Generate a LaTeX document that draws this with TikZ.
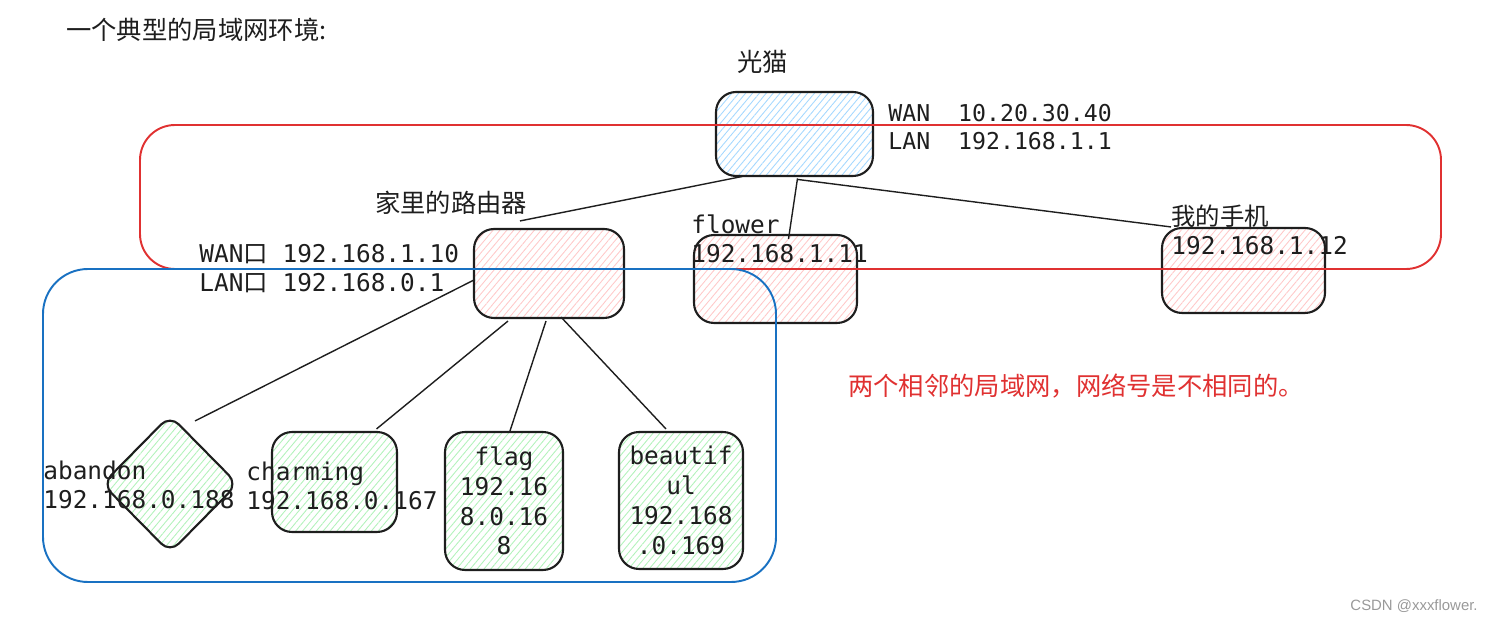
\documentclass[tikz,border=0pt]{standalone}
\usepackage{fontspec}
\newfontfamily\cjk{Noto Sans CJK SC}
\newfontfamily\monofont{DejaVu Sans Mono}
\newfontfamily\markfont{Liberation Sans}
\usetikzlibrary{shapes.geometric,patterns.meta,calc}
\definecolor{ink}{HTML}{1E1E1E}
\definecolor{netred}{HTML}{E03131}
\definecolor{netblue}{HTML}{1971C2}
\definecolor{hatchblue}{HTML}{A5D8FF}
\definecolor{hatchred}{HTML}{FFC9C9}
\definecolor{hatchgreen}{HTML}{B2F2BB}
\tikzset{
    device/.style={draw=ink, line width=1.2pt, rounded corners=0.4cm, pattern={Lines[angle=50,distance=3pt,line width=0.5pt]}},
    lanbox/.style={device, pattern color=hatchred},
    hostbox/.style={device, pattern color=hatchgreen},
    cjklabel/.style={font=\cjk\fontsize{14.4pt}{17pt}\selectfont, text=ink, inner sep=0pt, anchor=west},
    monolabel/.style={font=\monofont\fontsize{13.9pt}{16.5pt}\selectfont, text=ink, inner sep=0pt, align=left, anchor=west},
    link/.style={draw=ink, line width=0.8pt},
    zone/.style={line width=1.1pt, rounded corners=0.7cm},
}

\begin{document}
\begin{tikzpicture}[x=0.02cm, y=0.02cm]
    \useasboundingbox (0,0) rectangle (1492,-621);
    \node[cjklabel] (title) at (66,-30) {一个典型的局域网环境:};

    \node[device, pattern color=hatchblue, minimum width=3.14cm, minimum height=1.68cm] (modem) at (794.5,-134) {};
    \node[cjklabel] (modemname) at (737,-62) {光猫};
    \node[monolabel, font=\monofont\fontsize{13.2pt}{16pt}\selectfont] (modemip) at (888,-127) {WAN\ \ 10.20.30.40\\LAN\ \ 192.168.1.1};

    \node[lanbox, minimum width=3.0cm, minimum height=1.78cm] (router) at (549,-273.5) {};
    \node[cjklabel] (routername) at (375,-203) {家里的路由器};
    \node[monolabel] (routerip) at (199,-269) {WAN{\cjk 口} 192.168.1.10\\LAN{\cjk 口} 192.168.0.1};

    \node[lanbox, minimum width=3.26cm, minimum height=1.76cm] (flower) at (775.5,-279) {};
    \node[monolabel] (flowerip) at (691,-238.5) {flower\\192.168.1.11};

    \node[lanbox, minimum width=3.26cm, minimum height=1.70cm] (phone) at (1243.5,-270.5) {};
    \node[monolabel] (phoneip) at (1171,-230) {{\cjk 我的手机}\\192.168.1.12};

    \node[hostbox, diamond, rounded corners=0.25cm, minimum width=2.72cm, minimum height=2.76cm] (abandon) at (170,-484) {};
    \node[monolabel] (abandonip) at (43,-484.5) {abandon\\192.168.0.188};

    \node[hostbox, minimum width=2.5cm, minimum height=2.0cm] (charming) at (334.5,-482) {};
    \node[monolabel] (charmingip) at (246,-485.5) {charming\\192.168.0.167};

    \node[hostbox, minimum width=2.36cm, minimum height=2.76cm, inner sep=0pt, align=center,
          font=\monofont\fontsize{13.9pt}{17pt}\selectfont, text=ink] (flag) at (504,-501) {flag\\192.16\\8.0.16\\8};
    \node[hostbox, minimum width=2.48cm, minimum height=2.74cm, inner sep=0pt, align=center,
          font=\monofont\fontsize{13.9pt}{17pt}\selectfont, text=ink] (beautiful) at (681,-500.5) {beautif\\ul\\192.168\\.0.169};

    \draw[link] ($(modem.south)+(-52,0)$) -- ($(router.north)+(-29,7)$);
    \draw[link] ($(modem.south)+(3,-2)$) -- ($(flower.north)+(13,-5)$);
    \draw[link] ($(modem.south)+(3,-3)$) -- ($(phone.north west)+(10,0)$);
    \draw[link] ($(router.west)+(2,-6)$) -- ($(abandon.north)+(25,-7)$);
    \draw[link] ($(router.south)+(-41,-2)$) -- ($(charming.north)+(42,2)$);
    \draw[link] ($(router.south)+(-3,-2)$) -- ($(flag.north)+(6,0)$);
    \draw[link] ($(router.south)+(12,2)$) -- ($(beautiful.north)+(-15,2)$);

    \draw[zone, netred] (140,-125) rectangle (1441,-269);
    \draw[zone, netblue, rounded corners=0.9cm] (43,-269) rectangle (776,-582);

    \node[cjklabel, text=netred] (note) at (848,-386) {两个相邻的局域网，网络号是不相同的。};
    \node[font=\markfont\fontsize{8.5pt}{10pt}\selectfont, text=black!40, inner sep=0pt, anchor=east] (mark) at (1478,-606) {CSDN @xxxflower.};
\end{tikzpicture}
\end{document}
